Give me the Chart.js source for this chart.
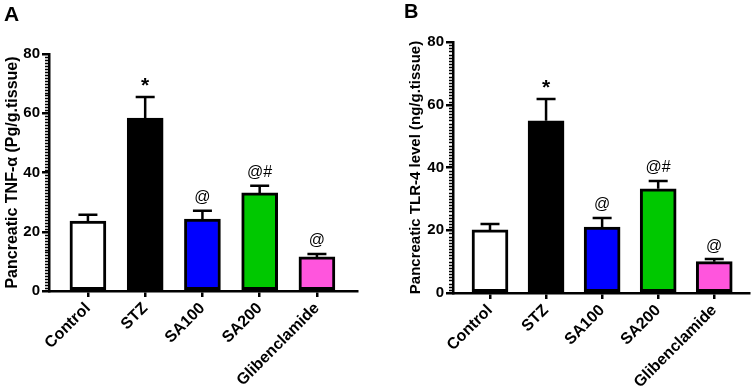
<!DOCTYPE html>
<html>
<head>
<meta charset="utf-8">
<script src="https://cdn.jsdelivr.net/npm/chart.js@4.4.1/dist/chart.umd.min.js"></script>
<style>
    body { margin: 0; background: #fff; width: 754px; height: 388px; overflow: hidden; position: relative; font-family: 'Liberation Sans', Arial, sans-serif; }
    .panel { position: absolute; top: 0; width: 377px; height: 388px; }
    .letter { position: absolute; font-weight: bold; color: #000; line-height: 1; }
</style>
</head>
<body>
<div class="panel" style="left:0"><canvas id="chartA" width="377" height="388"></canvas></div>
<div class="panel" style="left:377px"><canvas id="chartB" width="377" height="388"></canvas></div>
<div class="letter" style="left:4px;top:3px;font-size:21px">A</div>
<div class="letter" style="left:404px;top:1px;font-size:20px">B</div>
<script>
const groups = ['Control', 'STZ', 'SA100', 'SA200', 'Glibenclamide'];
const barColors = ['#ffffff', '#000000', '#0000ff', '#00c800', '#ff55dd'];
const yTicks = [0, 20, 40, 60, 80];

// Panel A - TNF-alpha
const tnfMean = [23.6, 58.4, 24.3, 33.1, 11.5];
const tnfErr = [2.1, 7.1, 2.8, 2.4, 1.0];
const tnfMarks = ['', '*', '@', '@#', '@'];

// Panel B - TLR-4
const tlrMean = [20.1, 54.9, 21.0, 33.2, 10.0];
const tlrErr = [1.9, 6.9, 2.9, 2.5, 0.8];
const tlrMarks = ['', '*', '@', '@#', '@'];

Chart.defaults.font.family = "'Liberation Sans', Arial, sans-serif";
Chart.defaults.color = '#000';

const extras = {
    id: 'extras',
    afterDatasetsDraw(chart, args, opts) {
        const ctx = chart.ctx;
        const y = chart.scales.y;
        const meta = chart.getDatasetMeta(0);
        ctx.save();
        ctx.strokeStyle = '#000';
        ctx.lineWidth = 2.5;
        meta.data.forEach((bar, i) => {
            const top = y.getPixelForValue(opts.means[i] + opts.errs[i]);
            ctx.beginPath();
            ctx.moveTo(bar.x, bar.y);
            ctx.lineTo(bar.x, top);
            ctx.moveTo(bar.x - 9.5, top);
            ctx.lineTo(bar.x + 9.5, top);
            ctx.stroke();

            const mark = opts.marks[i];
            if (mark) {
                ctx.fillStyle = '#000';
                ctx.textAlign = 'center';
                ctx.textBaseline = 'middle';
                if (mark === '*') {
                    ctx.font = "bold 21px 'Liberation Sans', Arial, sans-serif";
                    ctx.fillText(mark, bar.x, top - 11);
                } else {
                    ctx.font = "16px 'Liberation Sans', Arial, sans-serif";
                    ctx.fillText(mark, bar.x, top - 13);
                }
            }
        });

        // minor ticks on the y axis
        const x0 = chart.chartArea.left;
        ctx.lineWidth = 1.5;
        ctx.beginPath();
        for (let v = 1; v < 80; v++) {
            if (v % 20 === 0) continue;
            const py = Math.round(y.getPixelForValue(v)) + 0.5;
            ctx.moveTo(x0 - 4, py);
            ctx.lineTo(x0, py);
        }
        ctx.stroke();
        ctx.restore();
    }
};

function makeChart(id, means, errs, marks, title, cfg) {
    const ctx = document.getElementById(id).getContext('2d');
    return new Chart(ctx, {
        type: 'bar',
        data: {
            datasets: [{
                data: means.map((v, i) => ({ x: i, y: v })),
                backgroundColor: barColors,
                borderColor: '#000',
                borderWidth: 3,
                borderSkipped: false,
                barThickness: 36
            }]
        },
        options: {
            responsive: false,
            animation: false,
            layout: { padding: { top: cfg.top, right: cfg.right, left: cfg.left, bottom: 0 } },
            plugins: {
                legend: { display: false },
                tooltip: { enabled: false },
                extras: { means: means, errs: errs, marks: marks }
            },
            scales: {
                x: {
                    type: 'linear',
                    min: cfg.xmin,
                    max: cfg.xmax,
                    offset: false,
                    z: 1,
                    afterBuildTicks: s => { s.ticks = groups.map((g, i) => ({ value: i })); },
                    afterFit: s => { s.height = 388 - cfg.bottom; },
                    border: { color: '#000', width: 2.5 },
                    grid: { drawOnChartArea: false, drawTicks: true, tickLength: 6, color: '#000', lineWidth: 2.5, offset: false },
                    ticks: {
                        autoSkip: false,
                        minRotation: 45,
                        maxRotation: 45,
                        padding: 2,
                        font: { size: 16, weight: 'bold' },
                        callback: v => groups[v]
                    }
                },
                y: {
                    min: 0,
                    max: 80,
                    z: 1,
                    afterBuildTicks: s => { s.ticks = yTicks.map(v => ({ value: v })); },
                    afterFit: s => { s.width = cfg.yWidth; },
                    border: { color: '#000', width: 2.5 },
                    grid: { drawOnChartArea: false, drawTicks: true, tickLength: 7, color: '#000', lineWidth: 2.5 },
                    ticks: { padding: 2, font: { size: 15, weight: 'bold' } },
                    title: {
                        display: true,
                        text: title,
                        font: { size: cfg.titleSize, weight: 'bold' },
                        padding: { top: 0, bottom: 0 }
                    }
                }
            }
        },
        plugins: [extras]
    });
}

makeChart('chartA', tnfMean, tnfErr, tnfMarks, 'Pancreatic TNF-\u03b1 (Pg/g.tissue)',
    { top: 54, right: 20, left: 3, bottom: 291, yWidth: 46, xmin: -0.68, xmax: 4.70, titleSize: 16 });
makeChart('chartB', tlrMean, tlrErr, tlrMarks, 'Pancreatic TLR-4 level (ng/g.tissue)',
    { top: 42, right: 5, left: 30, bottom: 293, yWidth: 46, xmin: -0.66, xmax: 4.62, titleSize: 15 });
</script>
</body>
</html>
